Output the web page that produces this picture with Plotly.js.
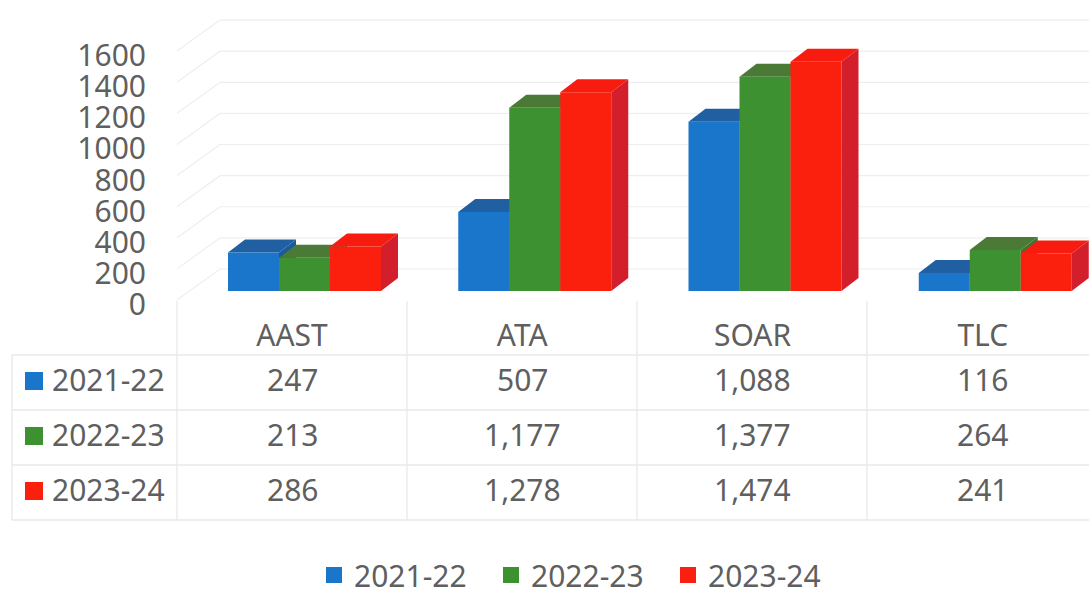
<!DOCTYPE html>
<html>
<head>
<meta charset="utf-8">
<script src="https://cdn.plot.ly/plotly-3.0.1.min.js"></script>
<style>html,body{margin:0;padding:0;background:#fff}</style>
</head>
<body>
<div id="chart" style="width:1089px;height:589px"></div>
<script>
// ---- data ----
var categories = ['AAST', 'ATA', 'SOAR', 'TLC'];
var seriesNames = ['2021-22', '2022-23', '2023-24'];
var values2122 = [247, 507, 1088, 116];
var values2223 = [213, 1177, 1377, 264];
var values2324 = [286, 1278, 1474, 241];
var yTicks = [0, 200, 400, 600, 800, 1000, 1200, 1400, 1600];
var frontColors = ['#1a76cb', '#3d9130', '#fb200e'];
var topColors = ['#215fa3', '#4a7a36', '#f81c10'];
var sideColors = ['#1c5a9c', '#3f7430', '#d31f2b'];

// ---- geometry ----
var W = 1089, H = 589;
var FONT = '"Noto Sans", "Liberation Sans", sans-serif', TXT = '#5f5f5f', FS = 30;
var STEP = 230.25, PXU = 0.1556;
var allSeries = [values2122, values2223, values2324];
function px(x) { return x / W; }
function py(y) { return 1 - y / H; }
function yRange(zeroPx) { return [(zeroPx - H) / PXU, zeroPx / PXU]; }
function xRange(firstPx) { return [-firstPx / STEP, (W - firstPx) / STEP]; }
var barW = 51 / STEP, depthX = 17 / STEP, depthY = 13 / PXU;
var idx = categories.map(function (_, i) { return i; });

var traces = [];
// back wall, side wall and floor
var wx = [], wy = [];
var backX = (220 - 304.5) / STEP, frontX = (177 - 304.5) / STEP, endX = (1089 - 304.5) / STEP;
var drop = 31 / PXU;
yTicks.forEach(function (v) {
  wx.push(frontX, backX, endX, null);
  wy.push(v - drop, v, v, null);
});
traces.push({ type: 'scatter', mode: 'lines', x: wx, y: wy, xaxis: 'x', yaxis: 'y',
  line: { color: '#eeeef1', width: 1.2 }, showlegend: false, hoverinfo: 'skip' });

// extruded faces and front faces, painted back to front
allSeries.forEach(function (vals, s) {
  var tx = [], ty = [], sx = [], sy = [];
  vals.forEach(function (v, i) {
    var l = i + (s - 1.5) * barW, r = l + barW;
    tx.push(l, l + depthX, r + depthX, r, l, null);
    ty.push(v, v + depthY, v + depthY, v, v, null);
    sx.push(r, r + depthX, r + depthX, r, r, null);
    sy.push(0, depthY, v + depthY, v, 0, null);
  });
  traces.push({ type: 'scatter', mode: 'none', x: sx, y: sy, xaxis: 'x', yaxis: 'y2', fill: 'toself',
    fillcolor: sideColors[s], zorder: s * 3, showlegend: false, hoverinfo: 'skip' });
  traces.push({ type: 'scatter', mode: 'none', x: tx, y: ty, xaxis: 'x', yaxis: 'y2', fill: 'toself',
    fillcolor: topColors[s], zorder: s * 3 + 1, showlegend: false, hoverinfo: 'skip' });
  traces.push({ type: 'bar', name: seriesNames[s], x: idx, y: vals, xaxis: 'x', yaxis: 'y2',
    width: barW, offset: (s - 1.5) * barW, marker: { color: frontColors[s], line: { width: 0 } },
    zorder: s * 3 + 2, showlegend: false });
});

// legend entries with square keys; these also carry the tick axes
seriesNames.forEach(function (n, s) {
  traces.push({ type: 'scatter', mode: 'markers', name: n, x: [null], y: [null], xaxis: 'x2', yaxis: 'y3',
    marker: { symbol: 'square', size: 17, color: frontColors[s] }, hoverinfo: 'skip' });
});

// table
var shapes = [];
function ln(x0, y0, x1, y1) {
  shapes.push({ type: 'line', xref: 'paper', yref: 'paper', x0: px(x0), y0: py(y0), x1: px(x1), y1: py(y1),
    line: { color: '#e9e9e9', width: 1.3 }, layer: 'below' });
}
[355, 410, 465, 520].forEach(function (y) { ln(12, y, W, y); });
ln(12, 355, 12, 520);
[177, 407, 637, 867].forEach(function (x) { ln(x, 301, x, 520); });

var rowY = [381, 436, 491];
var textLift = 2;
var annotations = [];
seriesNames.forEach(function (n, s) {
  shapes.push({ type: 'rect', xref: 'paper', yref: 'paper', x0: px(25), x1: px(43),
    y0: py(rowY[s] - 9), y1: py(rowY[s] + 9), fillcolor: frontColors[s], line: { width: 0 } });
  annotations.push({ xref: 'paper', yref: 'paper', x: px(50), y: py(rowY[s] - textLift), xanchor: 'left', yanchor: 'middle',
    text: n, showarrow: false, font: { family: FONT, size: FS, color: TXT } });
  allSeries[s].forEach(function (v, i) {
    annotations.push({ xref: 'x2', yref: 'paper', x: i, y: py(rowY[s] - textLift), xanchor: 'center', yanchor: 'middle',
      text: v.toLocaleString('en-US'), showarrow: false, font: { family: FONT, size: FS, color: TXT } });
  });
});

var hidden = { showgrid: false, zeroline: false, showticklabels: false, showline: false, ticks: '' };
var layout = {
  width: W, height: H, autosize: false, margin: { l: 0, r: 0, t: 0, b: 0, pad: 0, autoexpand: false },
  paper_bgcolor: '#ffffff', plot_bgcolor: 'rgba(0,0,0,0)', barmode: 'overlay', hovermode: 'closest',
  font: { family: FONT, size: FS, color: TXT },
  xaxis: Object.assign({ type: 'linear', range: xRange(304.5), domain: [0, 1], anchor: 'y', fixedrange: true }, hidden),
  xaxis2: Object.assign({}, hidden, { type: 'linear', range: xRange(292), overlaying: 'x', anchor: 'free',
    position: py(315), side: 'bottom', tickmode: 'array', tickvals: idx, ticktext: categories,
    showticklabels: true, tickfont: { family: FONT, size: FS, color: TXT }, fixedrange: true }),
  yaxis: Object.assign({ type: 'linear', range: yRange(269), domain: [0, 1], anchor: 'x', fixedrange: true }, hidden),
  yaxis2: Object.assign({ type: 'linear', range: yRange(291), overlaying: 'y', anchor: 'x', fixedrange: true }, hidden),
  yaxis3: Object.assign({}, hidden, { type: 'linear', range: yRange(304.5), overlaying: 'y', anchor: 'free',
    position: px(146), side: 'left', tickmode: 'array', tickvals: yTicks, ticktext: yTicks.map(String),
    showticklabels: true, tickfont: { family: FONT, size: FS, color: TXT }, fixedrange: true }),
  legend: { orientation: 'h', x: px(314), y: py(549), xanchor: 'left', yanchor: 'top',
    bgcolor: 'rgba(0,0,0,0)', font: { family: FONT, size: FS, color: TXT },
    entrywidth: 132, entrywidthmode: 'pixels', tracegroupgap: 0, itemclick: false, itemdoubleclick: false },
  shapes: shapes, annotations: annotations, showlegend: true
};
Plotly.newPlot('chart', traces, layout, { displayModeBar: false, responsive: false });
</script>
</body>
</html>
